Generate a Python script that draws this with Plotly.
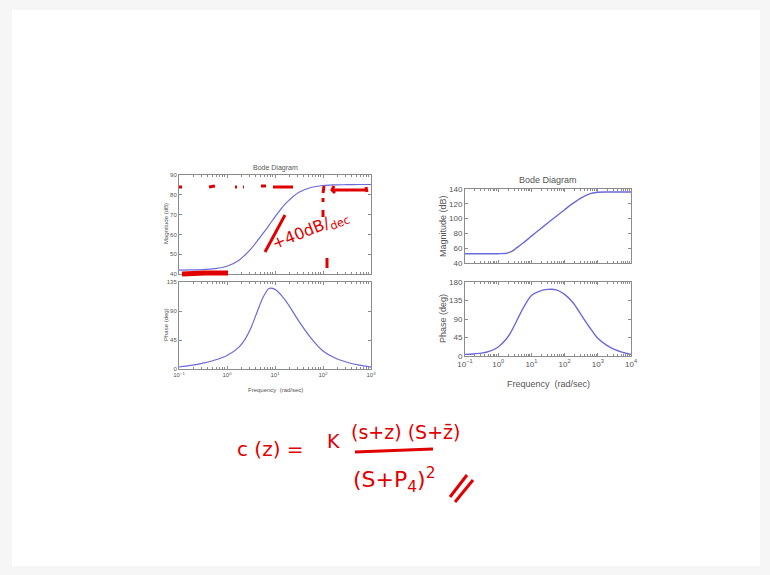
import plotly.graph_objects as go

W, H = 770, 575

# ---------------- data ----------------
# Left Bode diagram (frequency in rad/sec)
left_freq = [0.1, 0.178, 0.316, 0.562, 1.0, 1.78, 2.37, 3.16, 4.22, 5.62, 7.5, 10.0, 13.3, 17.8, 31.6, 56.2, 100.0, 178.0, 316.0, 562.0, 1000.0]
left_mag = [42.0, 42.1, 42.2, 42.7, 43.9, 47.0, 49.6, 52.7, 56.5, 60.5, 64.6, 68.9, 72.8, 76.3, 81.3, 83.7, 84.7, 85.0, 85.1, 85.2, 85.2]
left_phase = [3.1, 5.5, 9.0, 14.0, 21.0, 34.0, 46.0, 64.0, 88.0, 111.0, 125.0, 123.5, 115.0, 103.0, 74.0, 48.0, 28.0, 17.0, 10.5, 6.0, 3.0]

# Right Bode diagram
right_freq = [0.1, 0.178, 0.316, 0.562, 1.0, 1.78, 2.37, 3.16, 4.22, 5.62, 10.0, 17.8, 31.6, 56.2, 100.0,
              178.0, 316.0, 562.0, 1000.0, 1780.0, 3160.0, 5620.0, 10000.0]
right_mag = [52.5, 52.5, 52.5, 52.5, 52.6, 53.2, 55.0, 58.5, 62.8, 67.0, 76.3, 85.3, 94.3, 103.2, 112.0,
             120.5, 128.0, 133.5, 135.6, 136.0, 136.0, 136.0, 136.0]
right_phase = [4.0, 5.0, 7.0, 12.0, 22.0, 42.0, 57.0, 76.0, 97.0, 116.0, 147.0, 158.0, 162.0, 161.0, 150.0,
               130.0, 100.0, 70.0, 43.0, 27.0, 16.0, 9.0, 4.0]

left_mag_ticks = [40, 50, 60, 70, 80, 90]
left_phase_ticks = [0, 45, 90, 135]
right_mag_ticks = [40, 60, 80, 100, 120, 140]
right_phase_ticks = [0, 45, 90, 135, 180]
left_decades = [-1, 0, 1, 2, 3]
right_decades = [-1, 0, 1, 2, 3, 4]

# ---------------- handwritten red ink (pixel strokes) ----------------
ink_strokes = [
    # dotted line near the top of the left magnitude plot
    [(179, 187), (182, 187)], [(209, 187), (215, 186)], [(235, 187), (237, 187)],
    [(243, 187), (244, 187)], [(261, 186), (266, 186)], [(273, 187), (293, 187)],
    # vertical dashed mark at 10^2
    [(324, 186), (323, 193)], [(323, 198), (323, 202)], [(323, 210), (323, 217)], [(327, 258), (327, 268)],
    # arrow on the right
    [(334, 186), (332, 190), (335, 193)], [(333, 190), (366, 190)], [(366, 187), (367, 192)],
    # slope stroke
    [(265, 252), (285, 215)],
    # fraction bar and double slash
    [(355, 452), (433, 449)],
    [(450, 497), (467, 475)], [(455, 502), (473, 480)],
]
thick_strokes = [[(182, 274), (205, 273), (228, 273)]]

LINE = "#6a6ad8"
AX = "#8c8c8c"
TXT = "#555555"
RED = "#e10000"

def px(x):
    return x / W

def py(y):
    return 1 - y / H

def major_text(d):
    return "10<sup>" + ("\u2212" if d < 0 else "") + str(abs(d)) + "</sup>"

def minor_vals(decs):
    out = []
    for d in decs[:-1]:
        for m in range(2, 10):
            out.append(m * 10 ** d)
    return out

fig = go.Figure()
fig.add_trace(go.Scatter(x=left_freq, y=left_mag, mode="lines", line=dict(color=LINE, width=1.2, shape="spline", smoothing=0.8),
                         xaxis="x", yaxis="y", hoverinfo="skip"))
fig.add_trace(go.Scatter(x=left_freq, y=left_phase, mode="lines", line=dict(color=LINE, width=1.2, shape="spline", smoothing=0.8),
                         xaxis="x2", yaxis="y2", hoverinfo="skip"))
fig.add_trace(go.Scatter(x=right_freq, y=right_mag, mode="lines", line=dict(color=LINE, width=1.4, shape="spline", smoothing=0.8),
                         xaxis="x3", yaxis="y3", hoverinfo="skip"))
fig.add_trace(go.Scatter(x=right_freq, y=right_phase, mode="lines", line=dict(color=LINE, width=1.4, shape="spline", smoothing=0.8),
                         xaxis="x4", yaxis="y4", hoverinfo="skip"))

def xax(dom, decs, labels, size):
    return dict(domain=dom, type="log", range=[decs[0], decs[-1]], automargin=False,
                tickmode="array", tickvals=[10 ** d for d in decs],
                ticktext=[major_text(d) for d in decs],
                showticklabels=labels, ticks="inside", ticklen=3, tickcolor=AX,
                minor=dict(tickmode="array", tickvals=minor_vals(decs), ticks="inside", ticklen=2, tickcolor=AX),
                showline=True, linecolor=AX, linewidth=1, mirror="ticks", showgrid=False, zeroline=False,
                tickfont=dict(size=size, color=TXT, family="Liberation Sans"), fixedrange=True)

def yax(dom, rng, ticks, size):
    return dict(domain=dom, range=rng, automargin=False, tickmode="array", tickvals=ticks, ticks="inside", ticklen=3,
                tickcolor=AX, showline=True, linecolor=AX, linewidth=1, mirror="ticks", showgrid=False,
                zeroline=False, tickfont=dict(size=size, color=TXT, family="Liberation Sans"), fixedrange=True)

LX = [px(179), px(371)]
RX = [px(465), px(631)]

lay = dict(width=W, height=H, autosize=False, margin=dict(l=0, r=0, t=0, b=0, pad=0, autoexpand=False),
           showlegend=False, paper_bgcolor="#f6f6f6", plot_bgcolor="white")
lay["xaxis"] = xax(LX, left_decades, False, 6)
lay["xaxis"]["anchor"] = "y"
lay["yaxis"] = yax([py(274), py(175)], [40, 90], left_mag_ticks, 6)
lay["yaxis"]["anchor"] = "x"
lay["xaxis2"] = xax(LX, left_decades, True, 6)
lay["xaxis2"]["anchor"] = "y2"
lay["yaxis2"] = yax([py(369), py(282)], [0, 135], left_phase_ticks, 6)
lay["yaxis2"]["anchor"] = "x2"
lay["xaxis3"] = xax(RX, right_decades, False, 8)
lay["xaxis3"]["anchor"] = "y3"
lay["yaxis3"] = yax([py(263), py(189)], [40, 140], right_mag_ticks, 8)
lay["yaxis3"]["anchor"] = "x3"
lay["xaxis4"] = xax(RX, right_decades, True, 8)
lay["xaxis4"]["anchor"] = "y4"
lay["yaxis4"] = yax([py(356), py(282)], [0, 180], right_phase_ticks, 8)
lay["yaxis4"]["anchor"] = "x4"
fig.update_layout(**lay)

shapes = [dict(type="rect", xref="paper", yref="paper", x0=px(12), x1=px(760), y0=py(566), y1=py(10),
               fillcolor="white", line=dict(width=0), layer="below")]
for s in ink_strokes:
    path = "M " + " L ".join(f"{px(a):.5f},{py(b):.5f}" for a, b in s)
    shapes.append(dict(type="path", xref="paper", yref="paper", path=path, line=dict(color=RED, width=3)))
for s in thick_strokes:
    path = "M " + " L ".join(f"{px(a):.5f},{py(b):.5f}" for a, b in s)
    shapes.append(dict(type="path", xref="paper", yref="paper", path=path, line=dict(color=RED, width=5)))
# cover lower half of right x-axis title (cut off in the original)
shapes.append(dict(type="rect", xref="paper", yref="paper", x0=px(500), x1=px(600), y0=py(392), y1=py(384),
                   fillcolor="white", line=dict(width=0), layer="above"))
fig.update_layout(shapes=shapes)

def ann(text, x, y, size, color=TXT, angle=0, family="Liberation Sans"):
    return dict(text=text, x=px(x), y=py(y), xref="paper", yref="paper", showarrow=False,
                xanchor="center", yanchor="middle", textangle=angle,
                font=dict(size=size, color=color, family=family))

anns = [
    ann("Bode Diagram", 275, 168, 7),
    ann("Magnitude (dB)", 166, 224, 6, angle=-90),
    ann("Phase (deg)", 166, 325, 6, angle=-90),
    ann("Frequency  (rad/sec)", 275, 390, 6),
    ann("Bode Diagram", 548, 180, 9),
    ann("Magnitude (dB)", 443, 226, 9, angle=-90),
    ann("Phase (deg)", 443, 319, 9, angle=-90),
    ann("Frequency  (rad/sec)", 548, 384, 9),
    ann("+40dB/<sub>dec</sub>", 310, 230, 16, color=RED, angle=-22, family="DejaVu Sans"),
    ann("c (z) =", 270, 449, 20, color=RED, family="DejaVu Sans"),
    ann("K", 333, 441, 19, color=RED, family="DejaVu Sans"),
    ann("(s+z) (S+z\u0304)", 406, 432, 19, color=RED, family="DejaVu Sans"),
    ann("(S+P<sub>4</sub>)<sup>2</sup>", 394, 480, 22, color=RED, family="DejaVu Sans"),
]
fig.update_layout(annotations=anns)

post = (
    "document.documentElement.style.cssText='margin:0;padding:0;overflow:hidden;';"
    "document.body.style.cssText='margin:0;padding:0;overflow:hidden;';"
)

fig.write_html("out.html", config={"displayModeBar": False}, post_script=post)
